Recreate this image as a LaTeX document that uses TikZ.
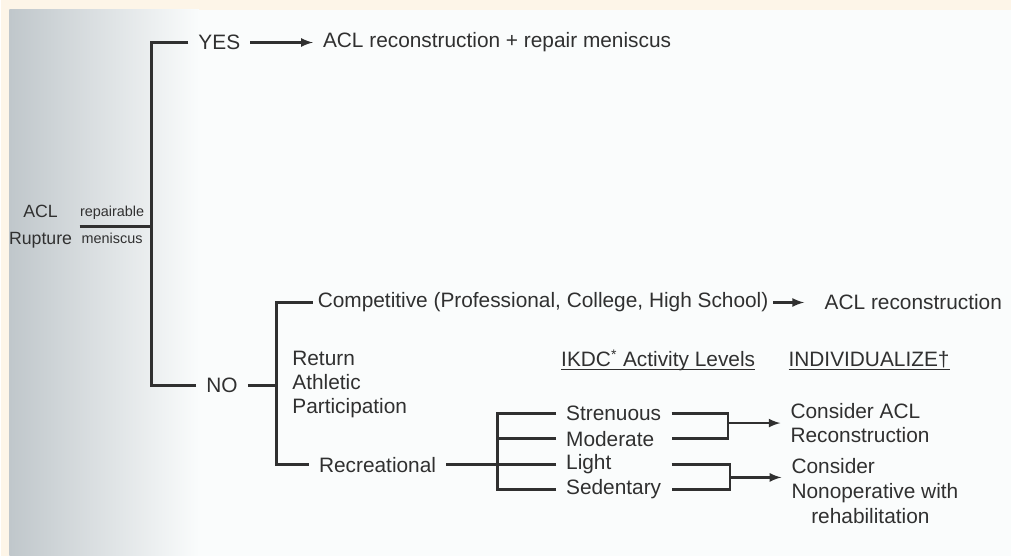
\documentclass[tikz,border=0pt]{standalone}
\usepackage{fontspec}
\setmainfont{Liberation Sans}
\usetikzlibrary{arrows}
\definecolor{paper}{RGB}{250,252,252}
\definecolor{cream}{RGB}{253,245,232}
\definecolor{shadow}{RGB}{192,199,203}
\definecolor{ink}{RGB}{48,48,48}
\newcommand{\txtsize}{\fontsize{12}{13.7}\selectfont}
\newcommand{\rupsize}{\fontsize{10.2}{15.4}\selectfont}
\newcommand{\tagsize}{\fontsize{8.3}{10}\selectfont}
\newcommand{\headline}[1]{\underline{\smash{#1}}}
\tikzstyle{graph}=[x=0.02cm, y=-0.02cm, line width=1.7pt, color=ink, font=\txtsize]
\tikzstyle{t}=[anchor=west, inner xsep=5pt, inner ysep=1pt]
\tikzstyle{multi}=[t, align=left]
\tikzstyle{tag}=[inner sep=1pt, font=\tagsize]
\tikzstyle{edge}=[line width=1.3pt, -latex]

\begin{document}
\begin{tikzpicture}[graph]
	% paper
	\fill[cream] (0,0) rectangle (1021,562);
	\fill[paper] (8,10) rectangle (1021,562);
	\shade[left color=shadow, right color=paper] (8,10) rectangle (200,562);
	%
	\draw (0,229) node[multi, align=center, inner xsep=3.5pt, font=\rupsize] (rupt) {ACL\\Rupture};
	\coordinate (jm) at (152,229);
	\draw (rupt.east) -- (jm) node[tag, pos=0.45, above=2pt] (rep) {repairable} node[tag, pos=0.45, below=2pt] (men) {meniscus};
	%
	\draw (189,43) node[t] (yes) {YES};
	\draw (315,43) node[t] (yesout) {ACL reconstruction + repair meniscus};
	\draw (197,390) node[t] (no) {NO};
	\draw (yes.west) -| (jm);
	\draw (no.west) -| (jm);
	\draw[edge] (yes) -- (yesout);
	%
	\coordinate (jr) at (278,390);
	\draw (315,306) node[t, inner xsep=2pt] (comp) {Competitive (Professional, College, High School)};
	\draw (812,306) node[t, inner xsep=11pt] (compout) {ACL reconstruction};
	\draw (284,389) node[multi] (ret) {Return\\Athletic\\Participation};
	\draw (311,470) node[t] (rec) {Recreational};
	\draw (no.east) -- (jr);
	\draw (comp.west) -| (jr);
	\draw (rec.west) -| (jr);
	\draw[edge] (comp) -- (compout);
	%
	\draw (556,373) node[t] (ikdc) {\headline{IKDC\textsuperscript{*} Activity Levels}};
	\draw (786,373) node[t] (indiv) {\headline{INDIVIDUALIZE†}};
	%
	\coordinate (ja) at (502,470);
	\draw (561,418) node[t] (stren) {Strenuous};
	\draw (561,444) node[t] (moder) {Moderate};
	\draw (561,470) node[t] (light) {Light};
	\draw (561,495) node[t] (seden) {Sedentary};
	\draw (rec.east) -- (ja);
	\draw (stren.west) -| (ja);
	\draw (moder.west) -| (ja);
	\draw (light.west) -| (ja);
	\draw (seden.west) -| (ja);
	%
	\coordinate (gate) at (678,0);
	\coordinate (ka) at (735,428);
	\coordinate (kb) at (737,483);
	\draw (788,428) node[multi] (consa) {Consider ACL\\Reconstruction};
	\draw (789,497) node[multi, font=\fontsize{12}{14.5}\selectfont] (consb) {Consider\\Nonoperative with\\\hspace*{0.4cm}rehabilitation};
	\draw (stren -| gate) -| (ka) |- (moder -| gate);
	\draw (light -| gate) -| (kb) |- (seden -| gate);
	\draw[edge] (ka) -- (ka -| consa.west);
	\draw[edge] (kb) -- (kb -| consb.west);
\end{tikzpicture}
\end{document}
